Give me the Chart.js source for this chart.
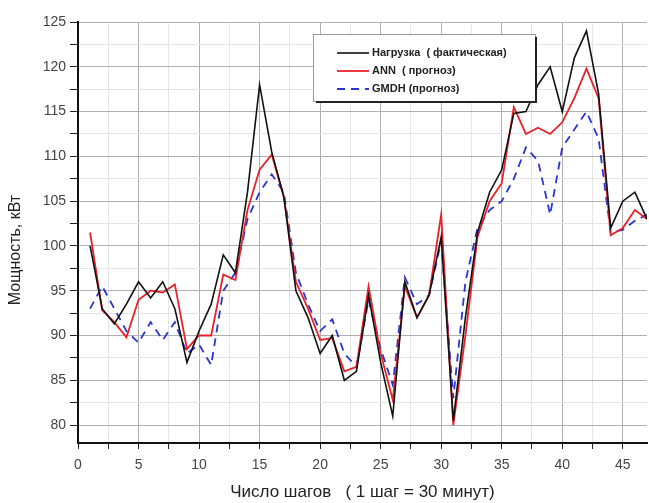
<!DOCTYPE html>
<html>
<head>
<meta charset="utf-8">
<script src="https://cdn.jsdelivr.net/npm/chart.js@4.4.1/dist/chart.umd.min.js"></script>
<style>
  html, body { margin: 0; padding: 0; background: #fff; }
  #wrap { width: 649px; height: 503px; }
</style>
</head>
<body>
<div id="wrap"><canvas id="loadChart" width="649" height="503"></canvas></div>
<script>
// steps (1 step = 30 min)
const steps = [1,2,3,4,5,6,7,8,9,10,11,12,13,14,15,16,17,18,19,20,21,22,23,24,25,26,27,28,29,30,31,32,33,34,35,36,37,38,39,40,41,42,43,44,45,46,47];

const actualLoad = [100,93,91.3,93.5,96,94.2,96,93,87,90.5,93.5,99,97,106,118,110.5,105.5,95,92,88,90,85,86,94.5,87,81,96,92,94.5,101,80.5,92,101.5,106,108.5,114.8,115,118,120,115,121,124,117,102,105,106,103];
const annForecast = [101.5,92.8,91.5,89.8,94,95,94.8,95.7,88.5,90,90,96.8,96.2,104,108.5,110.2,105.5,96,93,89.5,89.7,86,86.5,95.5,88,82.8,95.5,92,94.5,103.5,80,90,101,105,107,115.5,112.5,113.2,112.5,113.8,116.5,119.8,116.5,101.2,102,104,103];
const gmdhForecast = [93,95.5,93,90.5,89.2,91.5,89.5,91.5,88,89,86.7,95,97,103,106,108,106,97,93.5,90.5,91.8,88,86.5,94,88.5,84.5,96.5,93.5,94.5,100.5,83,96,102,104,105,107.5,111,109.5,103.5,111,113,115,112,101.5,101.8,102.8,103.5];

const yTickValues = [80,82.5,85,87.5,90,92.5,95,97.5,100,102.5,105,107.5,110,112.5,115,117.5,120,122.5,125];
const xTickValues = [0,2.5,5,7.5,10,12.5,15,17.5,20,22.5,25,27.5,30,32.5,35,37.5,40,42.5,45];

const seriesLabels = ["Нагрузка  ( фактическая)", "ANN  ( прогноз)", "GMDH (прогноз)"];
const yTitle = "Мощность, кВт";
const xTitle = "Число шагов   ( 1 шаг = 30 минут)";

const FONT = "'Liberation Sans', Arial, sans-serif";

function toPoints(vals) {
    return steps.map((s, i) => ({x: s, y: vals[i]}));
}

const isMajor = v => Math.abs(v % 5) < 1e-6;

// legend box inside the plot + y title a bit below centre, like the original
const boxLegend = {
    id: "boxLegend",
    afterDraw(chart) {
        const ctx = chart.ctx;
        const bx = 313, by = 34, bw = 222, bh = 67;
        ctx.save();
        ctx.fillStyle = "#fff";
        ctx.fillRect(bx, by, bw, bh);
        ctx.strokeStyle = "#999";
        ctx.lineWidth = 1;
        ctx.strokeRect(bx + 0.5, by + 0.5, bw, bh);
        ctx.strokeStyle = "#222";
        ctx.lineWidth = 2;
        ctx.beginPath();
        ctx.moveTo(bx + 3, by + bh + 1);
        ctx.lineTo(bx + bw + 1, by + bh + 1);
        ctx.lineTo(bx + bw + 1, by + 3);
        ctx.stroke();

        chart.data.datasets.forEach((ds, i) => {
            const y = by + 19 + i * 18;
            ctx.strokeStyle = ds.borderColor;
            ctx.lineWidth = ds.borderWidth;
            ctx.setLineDash(ds.borderDash || []);
            ctx.beginPath();
            ctx.moveTo(bx + 24, y);
            ctx.lineTo(bx + 56, y);
            ctx.stroke();
            ctx.setLineDash([]);
            ctx.fillStyle = "#222";
            ctx.font = "bold 11px " + FONT;
            ctx.textBaseline = "middle";
            ctx.fillText(ds.label, bx + 59, y);
        });

        ctx.translate(16, 250);
        ctx.rotate(-Math.PI / 2);
        ctx.fillStyle = "#222";
        ctx.font = "16px " + FONT;
        ctx.textAlign = "center";
        ctx.textBaseline = "middle";
        ctx.fillText(yTitle, 0, 0);
        ctx.restore();
    }
};

const chartElement = document.getElementById("loadChart");
const loadChart = new Chart(chartElement, {
    type: "line",
    data: {
        datasets: [
            {
                label: seriesLabels[0],
                data: toPoints(actualLoad),
                borderColor: "#111111",
                borderWidth: 1.6,
                pointRadius: 0,
                tension: 0
            },
            {
                label: seriesLabels[1],
                data: toPoints(annForecast),
                borderColor: "#e8212b",
                borderWidth: 1.8,
                pointRadius: 0,
                tension: 0
            },
            {
                label: seriesLabels[2],
                data: toPoints(gmdhForecast),
                borderColor: "#2a35d0",
                borderWidth: 1.8,
                borderDash: [8, 6],
                pointRadius: 0,
                tension: 0
            }
        ]
    },
    options: {
        responsive: false,
        animation: false,
        layout: {padding: {top: 22, right: 2, left: 0, bottom: 0}},
        plugins: {
            legend: {display: false},
            tooltip: {enabled: false}
        },
        scales: {
            x: {
                type: "linear",
                min: 0,
                max: 47,
                afterBuildTicks: scale => { scale.ticks = xTickValues.map(v => ({value: v})); },
                afterFit: scale => { scale.height = 60; },
                border: {color: "#111", width: 2},
                grid: {
                    color: ctx => isMajor(ctx.tick.value) ? "#b0b0b0" : "#e4e4e4",
                    tickColor: "#222",
                    tickLength: 6,
                    lineWidth: 1
                },
                ticks: {
                    autoSkip: false,
                    maxRotation: 0,
                    padding: 8,
                    color: "#444",
                    font: {family: FONT, size: 14},
                    callback: v => isMajor(v) ? String(v) : ""
                },
                title: {
                    display: true,
                    text: xTitle,
                    color: "#222",
                    font: {family: FONT, size: 17},
                    padding: {top: 9, bottom: 0}
                }
            },
            y: {
                type: "linear",
                min: 78,
                max: 125,
                afterBuildTicks: scale => { scale.ticks = yTickValues.map(v => ({value: v})); },
                afterFit: scale => { scale.width = 78; },
                border: {color: "#111", width: 2},
                grid: {
                    color: ctx => isMajor(ctx.tick.value) ? "#b0b0b0" : "#e4e4e4",
                    tickColor: "#222",
                    tickLength: 8,
                    lineWidth: 1
                },
                ticks: {
                    autoSkip: false,
                    padding: 4,
                    color: "#444",
                    font: {family: FONT, size: 14},
                    callback: v => isMajor(v) ? String(v) : ""
                },
                title: {display: false}
            }
        }
    },
    plugins: [boxLegend]
});
</script>
</body>
</html>
